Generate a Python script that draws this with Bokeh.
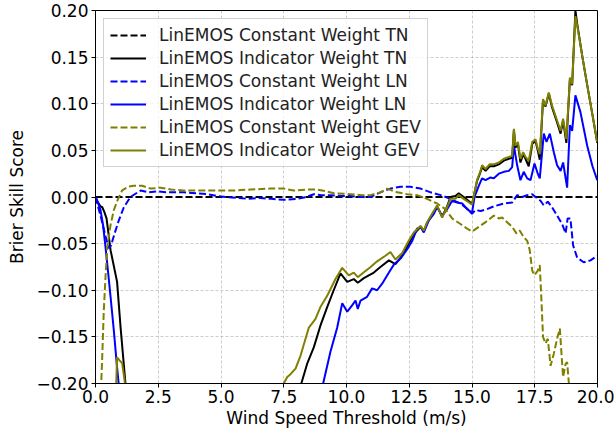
from bokeh.plotting import figure
from bokeh.models import Range1d, FixedTicker, Legend, LegendItem, CustomJSTickFormatter
from bokeh.embed import file_html
from bokeh.resources import INLINE

# ---- data ----
tn_const_x = [0.0, 20.0]
tn_const_y = [0.0, 0.0]

tn_ind_x = [0.0, 0.1, 0.2, 0.27, 0.35, 0.44, 0.6, 0.86, 1.0, 1.2, 1.3,
            8.0, 8.2, 8.43, 8.7, 8.96, 9.23, 9.49, 9.76, 10.03, 10.29, 10.45, 10.69, 11.09, 11.35, 11.69,
            11.95, 12.22, 12.48, 12.68, 12.95, 13.08, 13.21, 13.41, 13.61, 13.81, 14.01, 14.14, 14.34,
            14.47, 14.67, 14.94, 15.0, 15.2, 15.34, 15.4, 15.54, 15.7, 15.87, 16.07, 16.27, 16.47, 16.6,
            16.67, 16.73, 16.83, 16.93, 17.04, 17.13, 17.26, 17.4, 17.53, 17.62, 17.7, 17.83, 17.93,
            18.06, 18.19, 18.39, 18.53, 18.63, 18.76, 18.9, 18.99, 19.12, 19.19, 19.4, 19.59, 19.8, 19.99]
tn_ind_y = [0.0, -0.006, -0.01, -0.011, -0.016, -0.023, -0.057, -0.091, -0.14, -0.202, -0.25,
            -0.25, -0.2, -0.179, -0.161, -0.138, -0.118, -0.1, -0.082, -0.091, -0.088, -0.092, -0.087, -0.081, -0.075, -0.068,
            -0.072, -0.063, -0.05, -0.04, -0.032, -0.037, -0.028, -0.019, -0.01, -0.021, -0.01, 0.0, 0.001,
            0.004, 0.0, -0.006, -0.008, 0.017, 0.027, 0.032, 0.028, 0.033, 0.033, 0.035, 0.039, 0.041, 0.042,
            0.072, 0.053, 0.057, 0.037, 0.046, 0.041, 0.033, 0.057, 0.06, 0.05, 0.040, 0.104, 0.097,
            0.111, 0.096, 0.08, 0.068, 0.082, 0.058, 0.126, 0.12, 0.2, 0.186, 0.15, 0.12, 0.088, 0.058]

ln_const_x = [0.0, 0.2, 0.4, 0.53, 0.62, 0.75, 0.93, 1.13, 1.39, 1.8, 2.12, 2.5, 2.8, 3.5, 4.0, 4.45, 4.85,
              5.2, 5.65, 6.1, 6.57, 7.0, 7.5, 8.03, 8.4, 8.7, 9.0, 9.36, 9.8, 10.16, 10.5, 10.96, 11.35,
              11.75, 12.15, 12.55, 12.95, 13.35, 13.75, 14.14, 14.54, 14.87, 15.0, 15.14, 15.34, 15.6,
              15.87, 16.27, 16.6, 16.8, 17.0, 17.2, 17.4, 17.53, 17.73, 17.86, 18.02, 18.19, 18.39,
              18.59, 18.73, 18.81, 18.92, 19.03, 19.19, 19.45, 19.72, 19.99]
ln_const_y = [0.0, -0.02, -0.042, -0.055, -0.052, -0.04, -0.025, -0.011, 0.0, 0.007, 0.005, 0.006, 0.005, 0.005, 0.004, 0.003, 0.001,
              0.0, -0.001, -0.002, -0.001, -0.002, -0.003, -0.002, 0.0, 0.003, 0.002, 0.002, 0.001, 0.001, 0.0, 0.0, 0.005,
              0.009, 0.011, 0.011, 0.009, 0.005, 0.002, -0.002, -0.007, -0.014, -0.018, -0.014, -0.015, -0.013,
              -0.01, -0.007, -0.006, 0.002, 0.0, 0.002, 0.003, 0.0, -0.004, -0.009, -0.005, -0.011, -0.02,
              -0.029, -0.039, -0.023, -0.023, -0.052, -0.065, -0.07, -0.068, -0.063]

ln_ind_x = [0.0, 0.1, 0.2, 0.3, 0.4, 0.5, 0.6, 0.73, 0.85, 0.93, 1.0,
            9.0, 9.07, 9.36, 9.63, 9.83, 10.03, 10.23, 10.36, 10.45, 10.56, 10.82, 11.02, 11.22, 11.42, 11.69,
            11.9, 12.15, 12.42, 12.62, 12.81, 12.95, 13.08, 13.28, 13.48, 13.61, 13.81, 14.01, 14.21,
            14.41, 14.61, 14.81, 15.0, 15.1, 15.27, 15.4, 15.54, 15.74, 15.87, 16.07, 16.27, 16.47, 16.6,
            16.67, 16.8, 16.93, 17.06, 17.2, 17.33, 17.49, 17.62, 17.7, 17.86, 17.97, 18.1, 18.26, 18.39,
            18.53, 18.63, 18.79, 18.9, 18.99, 19.12, 19.32, 19.59, 19.8, 19.99]
ln_ind_y = [0.0, -0.006, -0.014, -0.03, -0.054, -0.08, -0.107, -0.143, -0.18, -0.202, -0.25,
            -0.25, -0.2, -0.166, -0.14, -0.114, -0.123, -0.116, -0.111, -0.12, -0.111, -0.107, -0.098, -0.1, -0.093, -0.081,
            -0.072, -0.066, -0.056, -0.047, -0.034, -0.032, -0.038, -0.025, -0.018, -0.011, -0.02, -0.013, -0.004,
            -0.006, -0.007, -0.013, -0.017, 0.0, 0.012, 0.02, 0.018, 0.021, 0.02, 0.025, 0.027, 0.028, 0.032,
            0.055, 0.034, 0.018, 0.027, 0.02, 0.018, 0.036, 0.025, 0.02, 0.068, 0.059, 0.068, 0.048, 0.034,
            0.028, 0.037, 0.01, 0.077, 0.071, 0.109, 0.091, 0.055, 0.033, 0.018]

gev_const_x = [0.1, 0.2, 0.27, 0.33, 0.4, 0.47, 0.6, 0.73, 0.9, 1.06, 1.3, 1.53, 1.86, 2.2, 2.59, 3.0, 3.5,
               4.0, 4.5, 4.98, 5.5, 6.18, 6.97, 7.5, 7.9, 8.4, 8.83, 9.2, 9.5, 10.16, 10.6, 10.96, 11.35,
               11.62, 12.02, 12.42, 12.81, 13.21, 13.61, 13.94, 14.21, 14.54, 14.81, 15.0, 15.27, 15.54,
               15.87, 16.07, 16.2, 16.4, 16.6, 16.77, 16.9, 17.06, 17.2, 17.3, 17.4, 17.49, 17.62, 17.7,
               17.76, 17.83, 17.93, 18.02, 18.13, 18.26, 18.39, 18.5, 18.57, 18.63, 18.73, 18.79, 18.86, 19.0]
gev_const_y = [-0.4, -0.22, -0.17, -0.122, -0.085, -0.054, -0.03, -0.014, -0.002, 0.007, 0.011, 0.012, 0.012, 0.009, 0.01, 0.008, 0.007,
               0.007, 0.007, 0.007, 0.007, 0.008, 0.009, 0.009, 0.007, 0.008, 0.008, 0.006, 0.004, 0.003, 0.002, 0.002, 0.005,
               0.009, 0.005, 0.003, 0.002, -0.002, -0.007, -0.013, -0.023, -0.029, -0.034, -0.037, -0.032, -0.027,
               -0.02, -0.023, -0.022, -0.027, -0.032, -0.039, -0.036, -0.043, -0.047, -0.057, -0.079, -0.084, -0.079, -0.073,
               -0.107, -0.15, -0.157, -0.152, -0.181, -0.168, -0.152, -0.141, -0.17, -0.193, -0.179, -0.177, -0.2, -0.3]

gev_ind_x = [0.7, 0.86, 0.95, 1.06, 1.2, 1.3,
             7.3, 7.5, 7.64, 7.77, 7.97, 8.17, 8.5, 8.76, 8.96, 9.23, 9.56, 9.83, 10.09, 10.29, 10.45, 10.63,
             10.96, 11.22, 11.55, 11.75, 11.95, 12.22, 12.48, 12.68, 12.95, 13.08, 13.21, 13.41, 13.61, 13.81,
             14.01, 14.14, 14.34, 14.47, 14.67, 14.94, 15.0, 15.2, 15.34, 15.4, 15.54, 15.7, 15.87, 16.07,
             16.27, 16.47, 16.6, 16.67, 16.73, 16.83, 16.93, 17.04, 17.13, 17.26, 17.4, 17.53, 17.62, 17.7,
             17.83, 17.93, 18.06, 18.19, 18.39, 18.53, 18.63, 18.76, 18.9, 18.99, 19.12, 19.19, 19.4, 19.59,
             19.8, 19.99]
gev_ind_y = [-0.3, -0.172, -0.175, -0.178, -0.205, -0.3,
             -0.25, -0.2, -0.193, -0.19, -0.184, -0.17, -0.14, -0.131, -0.118, -0.106, -0.088, -0.076, -0.084, -0.081, -0.086, -0.082,
             -0.075, -0.069, -0.063, -0.059, -0.067, -0.06, -0.047, -0.038, -0.031, -0.036, -0.027, -0.018, -0.009, -0.022,
             -0.011, -0.002, -0.002, 0.002, -0.002, -0.007, -0.008, 0.018, 0.028, 0.034, 0.03, 0.035, 0.035, 0.037,
             0.041, 0.043, 0.044, 0.073, 0.055, 0.059, 0.041, 0.048, 0.043, 0.039, 0.059, 0.062, 0.052, 0.046,
             0.105, 0.098, 0.112, 0.098, 0.082, 0.071, 0.084, 0.062, 0.128, 0.121, 0.194, 0.184, 0.15, 0.12,
             0.088, 0.059]

labels = ["LinEMOS Constant Weight TN", "LinEMOS Indicator Weight TN",
          "LinEMOS Constant Weight LN", "LinEMOS Indicator Weight LN",
          "LinEMOS Constant Weight GEV", "LinEMOS Indicator Weight GEV"]
x_ticks = [0.0, 2.5, 5.0, 7.5, 10.0, 12.5, 15.0, 17.5, 20.0]
y_ticks = [-0.20, -0.15, -0.10, -0.05, 0.00, 0.05, 0.10, 0.15, 0.20]

FONT = "DejaVu Sans"
FS = "17px"
DASH = "7 3"
LW = 2

p = figure(width=614, height=433, output_backend="svg", toolbar_location=None,
           x_range=Range1d(0, 20), y_range=Range1d(-0.2, 0.2),
           min_border_left=95, min_border_right=17, min_border_top=10, min_border_bottom=50)
p.outline_line_color = "black"
p.outline_line_width = 1
p.background_fill_color = "white"
p.border_fill_color = "white"

for ax in (p.xaxis[0], p.yaxis[0]):
    ax.major_label_text_font = FONT
    ax.major_label_text_font_size = FS
    ax.major_label_text_color = "black"
    ax.axis_label_text_font = FONT
    ax.axis_label_text_font_size = FS
    ax.axis_label_text_font_style = "normal"
    ax.axis_label_text_color = "black"
    ax.major_tick_out = 4
    ax.major_tick_in = 0
    ax.minor_tick_out = 0
    ax.minor_tick_in = 0
    ax.axis_line_color = "black"
    ax.major_tick_line_color = "black"

p.xaxis.axis_label = "Wind Speed Threshold (m/s)"
p.yaxis.axis_label = "Brier Skill Score"
p.xaxis.ticker = FixedTicker(ticks=x_ticks)
p.yaxis.ticker = FixedTicker(ticks=y_ticks)
p.xaxis.formatter = CustomJSTickFormatter(code="return tick.toFixed(1);")
p.yaxis.formatter = CustomJSTickFormatter(code="return tick.toFixed(2).replace('-', '\u2212');")
p.xaxis.major_label_standoff = 2
p.yaxis.major_label_standoff = 3
p.xaxis.axis_label_standoff = 2
p.yaxis.axis_label_standoff = 6

p.grid.grid_line_color = "#b0b0b0"
p.grid.grid_line_alpha = 0.8
p.grid.grid_line_dash = "3 2"
p.grid.grid_line_width = 0.8

r0 = p.line(tn_const_x, tn_const_y, color="black", line_width=LW, line_dash=DASH)
r1 = p.line(tn_ind_x, tn_ind_y, color="black", line_width=LW)
r2 = p.line(ln_const_x, ln_const_y, color="#0000ff", line_width=LW, line_dash=DASH)
r3 = p.line(ln_ind_x, ln_ind_y, color="#0000ff", line_width=LW)
r4 = p.line(gev_const_x, gev_const_y, color="#808000", line_width=LW, line_dash=DASH)
r5 = p.line(gev_ind_x, gev_ind_y, color="#808000", line_width=LW)

legend = Legend(items=[LegendItem(label=l, renderers=[r]) for l, r in zip(labels, [r0, r1, r2, r3, r4, r5])],
                location="top_left")
legend.label_text_font = FONT
legend.label_text_font_size = FS
legend.label_text_color = "#222222"
legend.glyph_width = 36
legend.glyph_height = 20
legend.label_height = 20
legend.spacing = 3
legend.padding = 6
legend.margin = 8
legend.label_standoff = 13
legend.border_line_color = "#cccccc"
legend.border_line_alpha = 0.9
legend.background_fill_alpha = 0.8
p.add_layout(legend)

open("out.html", "w").write(file_html(p, INLINE))
